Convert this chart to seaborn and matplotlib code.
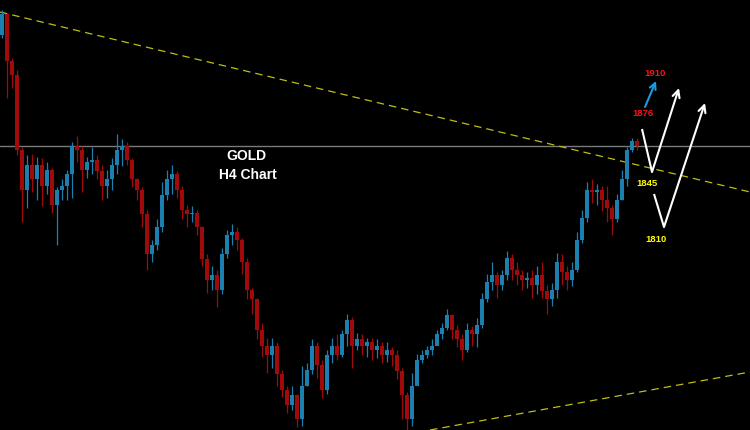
import matplotlib
matplotlib.use("Agg")
import matplotlib.pyplot as plt
import seaborn as sns
import pandas as pd
import numpy as np

# ---- data (gold H4 candles) ----
opens = [1930, 1943, 1914, 1905, 1858, 1833, 1849, 1840, 1849, 1836,
         1846, 1824, 1833, 1836, 1843, 1861, 1858, 1846, 1851, 1852,
         1845, 1836, 1840, 1849, 1858, 1861, 1852, 1840, 1833, 1818,
         1793, 1799, 1810, 1830, 1840, 1843, 1833, 1821, 1818, 1819,
         1810, 1790, 1777, 1780, 1771, 1793, 1805, 1807, 1802, 1788,
         1771, 1765, 1746, 1736, 1730, 1736, 1718, 1708, 1699, 1705,
         1690, 1711, 1721, 1736, 1724, 1708, 1730, 1736, 1730, 1743,
         1752, 1736, 1740, 1736, 1738, 1733, 1736, 1730, 1733, 1730,
         1720, 1705, 1690, 1711, 1727, 1730, 1733, 1736, 1743, 1747,
         1755, 1746, 1740, 1733, 1746, 1743, 1749, 1765, 1776, 1780,
         1774, 1780, 1791, 1783, 1780, 1777, 1778, 1774, 1780, 1770,
         1765, 1771, 1788, 1782, 1777, 1783, 1802, 1816, 1833, 1832,
         1833, 1827, 1822, 1815, 1827, 1840, 1858, 1864]
closes = [1943, 1914, 1905, 1858, 1833, 1849, 1840, 1849, 1836, 1846,
          1824, 1833, 1836, 1843, 1861, 1858, 1846, 1851, 1852, 1845,
          1836, 1840, 1849, 1858, 1861, 1852, 1840, 1833, 1818, 1793,
          1799, 1810, 1830, 1840, 1843, 1833, 1821, 1818, 1819, 1810,
          1790, 1777, 1780, 1771, 1793, 1805, 1807, 1802, 1788, 1771,
          1765, 1746, 1736, 1730, 1736, 1718, 1708, 1699, 1705, 1690,
          1711, 1721, 1736, 1724, 1708, 1730, 1736, 1730, 1743, 1752,
          1736, 1740, 1736, 1738, 1733, 1736, 1730, 1733, 1730, 1720,
          1705, 1690, 1711, 1727, 1730, 1733, 1736, 1743, 1747, 1755,
          1746, 1740, 1733, 1746, 1743, 1749, 1765, 1776, 1780, 1774,
          1780, 1791, 1783, 1780, 1777, 1778, 1774, 1780, 1770, 1765,
          1771, 1788, 1782, 1777, 1783, 1802, 1816, 1833, 1832, 1833,
          1827, 1822, 1815, 1827, 1840, 1858, 1864, 1861]
highs = [1946, 1944, 1916, 1908, 1860, 1855, 1856, 1854, 1853, 1851,
         1847, 1835, 1840, 1846, 1863, 1867, 1861, 1854, 1860, 1855,
         1849, 1846, 1853, 1868, 1865, 1863, 1853, 1841, 1835, 1821,
         1802, 1815, 1838, 1846, 1849, 1845, 1836, 1824, 1823, 1821,
         1811, 1793, 1786, 1783, 1797, 1808, 1812, 1810, 1803, 1791,
         1772, 1766, 1750, 1741, 1741, 1738, 1721, 1711, 1711, 1706,
         1723, 1725, 1740, 1738, 1727, 1733, 1741, 1743, 1746, 1756,
         1754, 1744, 1743, 1741, 1741, 1740, 1738, 1738, 1735, 1733,
         1722, 1707, 1719, 1731, 1733, 1736, 1740, 1746, 1750, 1759,
         1756, 1749, 1743, 1750, 1748, 1753, 1769, 1781, 1788, 1782,
         1783, 1795, 1793, 1788, 1783, 1782, 1783, 1786, 1788, 1774,
         1775, 1794, 1793, 1786, 1788, 1807, 1821, 1838, 1840, 1837,
         1836, 1836, 1824, 1831, 1846, 1860, 1866, 1866]
lows = [1928, 1891, 1897, 1855, 1813, 1822, 1832, 1827, 1823, 1831,
        1819, 1799, 1827, 1827, 1828, 1851, 1832, 1841, 1843, 1840,
        1827, 1828, 1833, 1843, 1848, 1849, 1835, 1827, 1810, 1783,
        1788, 1796, 1807, 1827, 1831, 1828, 1815, 1810, 1813, 1805,
        1786, 1769, 1771, 1760, 1768, 1791, 1799, 1796, 1781, 1765,
        1756, 1740, 1729, 1719, 1722, 1711, 1704, 1694, 1696, 1685,
        1686, 1711, 1718, 1716, 1703, 1706, 1725, 1727, 1729, 1736,
        1722, 1733, 1730, 1729, 1727, 1728, 1725, 1726, 1723, 1715,
        1690, 1683, 1686, 1713, 1725, 1728, 1730, 1738, 1740, 1746,
        1740, 1735, 1727, 1732, 1736, 1735, 1747, 1763, 1771, 1766,
        1771, 1777, 1777, 1774, 1771, 1772, 1766, 1768, 1766, 1756,
        1761, 1766, 1774, 1771, 1773, 1782, 1800, 1813, 1825, 1824,
        1820, 1813, 1805, 1813, 1827, 1836, 1857, 1858]

resistance_level = 1861
upper_trend_x = [-0.4, 149.6]
upper_trend_price = [1944.5, 1832]
lower_trend_x = [85.6, 149.6]
lower_trend_price = [1683.25, 1719.5]

targets = ["1910", "1876", "1845", "1810"]
title_lines = ["GOLD", "H4 Chart"]

# ---- styling ----
BG = "#000000"
UP = "#1b7fb0"
DOWN = "#a00a0a"

sns.set_theme(style="dark", rc={"axes.facecolor": BG, "figure.facecolor": BG})
plt.rcParams["font.family"] = ["Liberation Sans", "DejaVu Sans"]

df = pd.DataFrame({"open": opens, "high": highs, "low": lows, "close": closes})
df["idx"] = np.arange(len(df))
df["dir"] = np.where(df["close"] >= df["open"], "up", "down")

fig = plt.figure(figsize=(7.5, 4.3), dpi=100)
ax = fig.add_axes([0, 0, 1, 1])
ax.set_facecolor(BG)

# horizontal resistance line
ax.axhline(resistance_level, color="#7a7a7a", lw=1.0, zorder=1)

# trendlines
sns.lineplot(x=upper_trend_x, y=upper_trend_price, ax=ax, color="#bebe14",
             lw=0.9, linestyle=(0, (6, 4)), zorder=2)
sns.lineplot(x=lower_trend_x, y=lower_trend_price, ax=ax, color="#bebe14",
             lw=0.9, linestyle=(0, (6, 4)), zorder=2)

# candles
for d, col in (("up", UP), ("down", DOWN)):
    sub = df[df["dir"] == d]
    ax.vlines(sub["idx"], sub["low"], sub["high"], color=col, lw=0.9, zorder=3)
    bottoms = np.minimum(sub["open"], sub["close"])
    heights = np.maximum(np.abs(sub["close"] - sub["open"]), 0.6)
    ax.bar(sub["idx"], heights, bottom=bottoms, width=0.72, color=col,
           edgecolor="none", zorder=3)

ax.set_xlim(-0.4, 149.6)
ax.set_ylim(1683.25, 1952)
ax.set_xticks([])
ax.set_yticks([])
for s in ax.spines.values():
    s.set_visible(False)
ax.grid(False)

# projection arrows (axes fraction from picture positions)
W, H = 750.0, 430.0
def P(x, y):
    return (x / W, 1 - y / H)

def vpath(p0, p1, p2, col):
    a, b = P(*p0), P(*p1)
    ax.plot([a[0], b[0]], [a[1], b[1]], transform=ax.transAxes, color=col,
            lw=1.5, solid_capstyle="butt", zorder=5)
    ax.annotate("", xy=P(*p2), xytext=P(*p1), xycoords="axes fraction",
                textcoords="axes fraction",
                arrowprops=dict(arrowstyle="->", color=col, lw=1.5,
                                mutation_scale=13, shrinkA=0, shrinkB=0),
                zorder=5)

vpath((642, 129), (652, 172), (679, 88), "white")
vpath((654, 194), (664, 227), (705, 103), "white")
ax.annotate("", xy=P(656, 81), xytext=P(645, 107), xycoords="axes fraction",
            textcoords="axes fraction",
            arrowprops=dict(arrowstyle="->", color="#1e9be0", lw=1.5,
                            mutation_scale=11, shrinkA=0, shrinkB=0), zorder=5)

lab_style = dict(transform=ax.transAxes, ha="center", va="center",
                 fontsize=6.8, fontweight="bold", zorder=6)
ax.text(*P(655, 73), targets[0], color="#ff1010", **lab_style)
ax.text(*P(643, 114), targets[1], color="#ff1010", **lab_style)
ax.text(*P(647, 183), targets[2], color="#ffff00", **lab_style)
ax.text(*P(656, 240), targets[3], color="#ffff00", **lab_style)

ax.text(*P(246, 156), title_lines[0], color="white", transform=ax.transAxes,
        ha="center", va="center", fontsize=10, fontweight="bold", zorder=6)
ax.text(*P(248, 175), title_lines[1], color="white", transform=ax.transAxes,
        ha="center", va="center", fontsize=10, fontweight="bold", zorder=6)

fig.savefig("out.png", dpi=100, facecolor=BG)
